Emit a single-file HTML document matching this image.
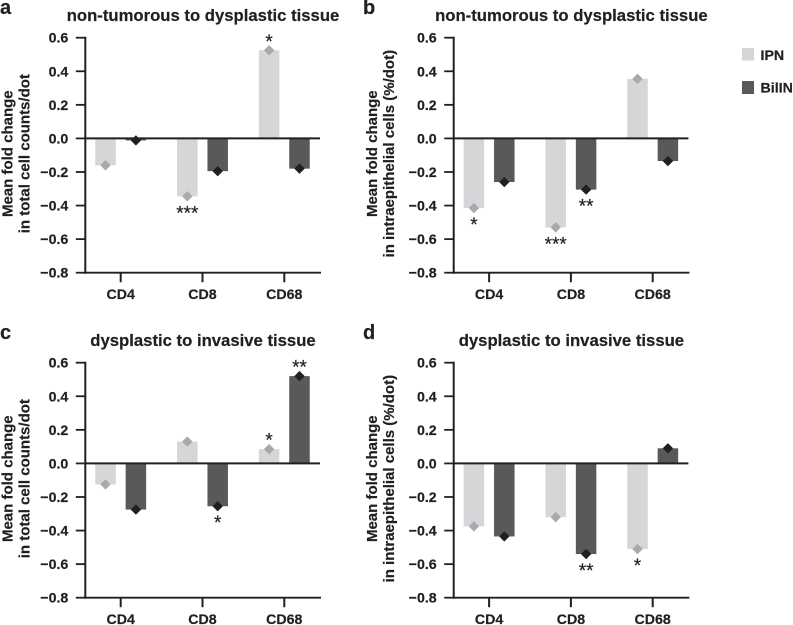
<!DOCTYPE html>
<html lang="en">
<head>
<meta charset="utf-8">
<title>Mean fold change by tissue transition</title>
<style>
html,body{margin:0;padding:0;background:#fff;width:793px;height:625px;overflow:hidden}
svg{display:block;font-family:"Liberation Sans",Arial,sans-serif;font-weight:bold;fill:#231f20}
text{stroke:#231f20;stroke-width:.2px}
</style>
</head>
<body>
<svg id="figure" width="793" height="625" viewBox="0 0 793 625" xmlns="http://www.w3.org/2000/svg"></svg>
<script>
const categories = ['CD4', 'CD8', 'CD68'];
const tickLabels = [0.6, 0.4, 0.2, 0, -0.2, -0.4, -0.6, -0.8];

const titleA = 'non-tumorous to dysplastic tissue';
const titleB = 'non-tumorous to dysplastic tissue';
const titleC = 'dysplastic to invasive tissue';
const titleD = 'dysplastic to invasive tissue';

const yLabelTotal = ['Mean fold change', 'in total cell counts/dot'];
const yLabelIntra = ['Mean fold change', 'in intraepithelial cells (%/dot)'];

const ipnA = [-0.16, -0.345, 0.525];
const billinA = [-0.012, -0.195, -0.18];
const ipnB = [-0.415, -0.53, 0.355];
const billinB = [-0.26, -0.305, -0.135];
const ipnC = [-0.125, 0.13, 0.085];
const billinC = [-0.275, -0.255, 0.52];
const ipnD = [-0.375, -0.32, -0.51];
const billinD = [-0.435, -0.54, 0.09];

const sigIpnA = ['', '***', '*'];
const sigBillinA = ['', '', ''];
const sigIpnB = ['*', '***', ''];
const sigBillinB = ['', '**', ''];
const sigIpnC = ['', '', '*'];
const sigBillinC = ['', '*', '**'];
const sigIpnD = ['', '', '*'];
const sigBillinD = ['', '**', ''];

const svg = document.getElementById('figure');
const NS = 'http://www.w3.org/2000/svg';

function make(parent, tag, attrs, text) {
  const el = document.createElementNS(NS, tag);
  for (const k in attrs) el.setAttribute(k, attrs[k]);
  if (text !== undefined) el.textContent = text;
  parent.appendChild(el);
  return el;
}

function drawPanel(name, letter, letterX, dx, dy, title, yLabel, ipn, billin, sigIpn, sigBillin) {
  const g = make(svg, 'g', {});
  
  

  const axisX = 85.3 + dx;
  const axisRight = 321 + dx;
  const yTop = 37.7 + dy;
  const yBottom = 272.7 + dy;
  const yScale = v => yTop + (0.6 - v) / 1.4 * (yBottom - yTop);
  const xCenter = i => 120.7 + dx + i * 81.8;
  const barW = 20.5;
  const barOffset = 15.2;

  const panelLetter = make(g, 'text', {x: letterX, y: 14 + dy, 'font-size': 20}, letter);
  
  

  const titleEl = make(g, 'text', {x: 203 + dx, y: 21 + dy, 'font-size': 16.7, 'text-anchor': 'middle'}, title);
  
  

  const baselines = [12.5, 29.5];
  yLabel.forEach((line, i) => {
    const bx = baselines[i] + (dx ? 364.3 : 0);
    const label = make(g, 'text', {
      x: 0, y: 0, 'font-size': 15, 'text-anchor': 'middle',
      transform: 'translate(' + bx + ',' + (153.7 + dy) + ') rotate(-90)'
    }, line);
    
    
  });

  categories.forEach((cat, i) => {
    const pairs = [[ipn[i], -barOffset, '#d4d6d8', 'ipn'], [billin[i], barOffset, '#58595b', 'billin']];
    pairs.forEach(p => {
      const v = p[0], cx = xCenter(i) + p[1], y0 = yScale(0), yv = yScale(v);
      const bar = make(g, 'rect', {x: cx - barW / 2, y: Math.min(y0, yv), width: barW, height: Math.abs(yv - y0), fill: p[2]});
      
      
    });
  });

  const axisColor = '#231f20';
  tickLabels.forEach(t => {
    const y = yScale(t);
    const tick = make(g, 'line', {x1: axisX - 9.5, x2: axisX, y1: y, y2: y, stroke: axisColor, 'stroke-width': 1.8});
    
    
    const str = (t < 0 ? '\u2212' : '') + Math.abs(t).toFixed(1);
    const lab = make(g, 'text', {x: axisX - 17, y: y + 5, 'font-size': 14.2, 'text-anchor': 'end'}, str);
    
    
  });

  const yAxis = make(g, 'line', {x1: axisX, x2: axisX, y1: yTop - 0.9, y2: yBottom + 1, stroke: axisColor, 'stroke-width': 2});
  
  

  const xAxis = make(g, 'line', {x1: axisX, x2: axisRight, y1: yBottom, y2: yBottom, stroke: axisColor, 'stroke-width': 1.9});
  
  

  const zeroLine = make(g, 'line', {x1: axisX, x2: axisRight - 1, y1: yScale(0), y2: yScale(0), stroke: axisColor, 'stroke-width': 2});
  
  

  categories.forEach((cat, i) => {
    const cx = xCenter(i);
    const tick = make(g, 'line', {x1: cx, x2: cx, y1: yBottom, y2: yBottom + 9.5, stroke: axisColor, 'stroke-width': 2});
    
    
    const lab = make(g, 'text', {x: cx, y: 299 + dy, 'font-size': 14.2, 'text-anchor': 'middle'}, cat);
    
    

    const items = [[ipn[i], -barOffset, '#a7a9ac', sigIpn[i], 'ipn'], [billin[i], barOffset, '#231f20', sigBillin[i], 'billin']];
    items.forEach(p => {
      const v = p[0], mx = cx + p[1], my = yScale(v), r = 5.2;
      const marker = make(g, 'polygon', {
        points: [mx, my - r, mx + r, my, mx, my + r, mx - r, my].join(','),
        fill: p[2]
      });
      
      
      if (p[3]) {
        const sy = v >= 0 ? my - 12 : my + 13.5;
        const star = make(g, 'text', {x: mx, y: sy + 9.5, 'font-size': 19, 'font-weight': 'normal', 'text-anchor': 'middle'}, p[3]);
        
        
      }
    });
  });
}

drawPanel('a', 'a', 0, 0, 0, titleA, yLabelTotal, ipnA, billinA, sigIpnA, sigBillinA);
drawPanel('b', 'b', 363, 368.4, 0, titleB, yLabelIntra, ipnB, billinB, sigIpnB, sigBillinB);
drawPanel('c', 'c', 0, 0, 325, titleC, yLabelTotal, ipnC, billinC, sigIpnC, sigBillinC);
drawPanel('d', 'd', 363, 368.4, 325, titleD, yLabelIntra, ipnD, billinD, sigIpnD, sigBillinD);

const legend = make(svg, 'g', {});



const ipnEntry = make(legend, 'g', {});


make(ipnEntry, 'rect', {x: 742, y: 48, width: 12, height: 12.6, fill: '#d4d6d8'});
make(ipnEntry, 'text', {x: 760.5, y: 60, 'font-size': 14.2}, 'IPN');

const billinEntry = make(legend, 'g', {});


make(billinEntry, 'rect', {x: 742, y: 81, width: 12, height: 13, fill: '#58595b'});
make(billinEntry, 'text', {x: 760.5, y: 92.5, 'font-size': 14.2}, 'BilIN');
</script>
</body>
</html>
